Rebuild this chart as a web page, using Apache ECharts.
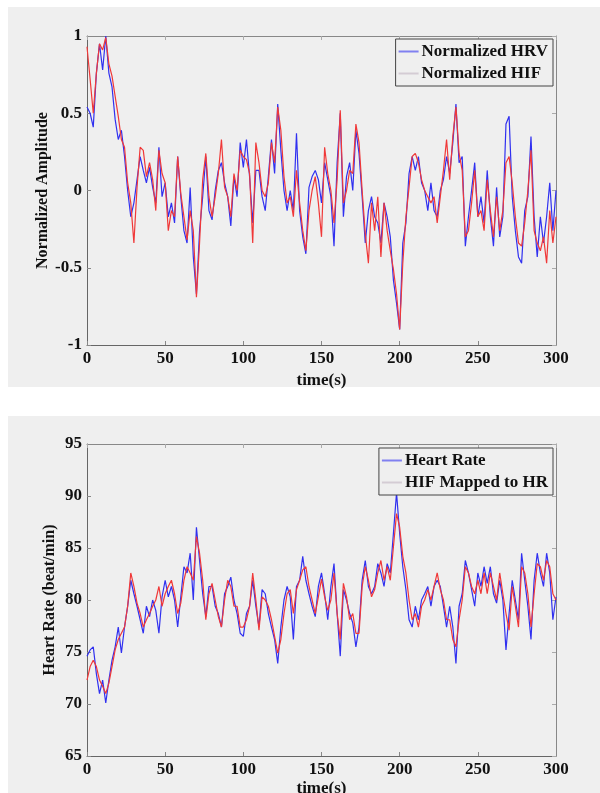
<!DOCTYPE html>
<html>
<head>
<meta charset="utf-8">
<script src="https://cdn.jsdelivr.net/npm/echarts@6/dist/echarts.min.js"></script>
<style>
  html, body { margin: 0; padding: 0; background: #fff; }
  #chart { width: 600px; height: 793px; }
</style>
</head>
<body>
<div id="chart"></div>
<script>
// samples every 2 s, 0..300 s
const timeStep = 2

// top panel: normalized HRV (blue) and normalized HIF (red)
const hrvNorm = [
  0.54, 0.50, 0.41, 0.76, 0.95, 0.78, 1.00, 0.76, 0.67, 0.46,
  0.33, 0.39, 0.22, 0.00, -0.17, -0.08, 0.07, 0.22, 0.13, 0.05,
  0.15, 0.02, -0.08, 0.28, -0.04, 0.05, -0.17, -0.08, -0.21, 0.22,
  -0.04, -0.26, -0.34, 0.02, -0.43, -0.67, -0.26, -0.04, 0.22, -0.13,
  -0.19, 0.00, 0.13, 0.18, 0.05, -0.04, -0.23, 0.09, -0.04, 0.31,
  0.15, 0.33, 0.09, -0.21, 0.13, 0.13, -0.04, -0.13, 0.09, 0.33,
  0.11, 0.56, 0.26, 0.00, -0.13, 0.00, -0.13, 0.37, -0.13, -0.30,
  -0.41, 0.02, 0.09, 0.13, 0.07, -0.08, 0.18, 0.07, -0.04, -0.36,
  0.18, 0.50, -0.17, 0.09, 0.18, 0.00, 0.39, 0.24, -0.04, -0.34,
  -0.13, -0.04, -0.17, -0.21, -0.34, -0.08, -0.17, -0.30, -0.58, -0.73,
  -0.90, -0.34, -0.21, 0.11, 0.22, 0.13, 0.22, 0.05, 0.00, -0.13,
  0.05, -0.13, -0.17, 0.00, 0.07, 0.22, 0.11, 0.31, 0.56, 0.18,
  0.22, -0.36, -0.17, 0.00, 0.18, -0.17, -0.04, -0.21, 0.13, -0.17,
  -0.36, 0.02, -0.30, -0.17, 0.43, 0.48, -0.04, -0.26, -0.43, -0.47,
  -0.13, -0.04, 0.35, -0.17, -0.43, -0.17, -0.34, -0.17, 0.05, -0.26,
  0.00
]
const hifNorm = [
  0.93, 0.72, 0.50, 0.76, 0.95, 0.91, 0.99, 0.82, 0.74, 0.61,
  0.48, 0.33, 0.28, 0.05, -0.08, -0.34, 0.02, 0.28, 0.26, 0.09,
  0.18, 0.07, -0.13, 0.26, 0.11, 0.05, -0.26, -0.13, -0.17, 0.22,
  -0.02, -0.17, -0.32, -0.13, -0.26, -0.69, -0.34, 0.07, 0.24, -0.04,
  -0.17, -0.04, 0.11, 0.33, 0.02, -0.04, -0.17, 0.11, 0.00, 0.26,
  0.22, 0.20, 0.11, -0.34, 0.31, 0.18, 0.00, -0.04, 0.05, 0.31,
  0.18, 0.54, 0.39, 0.09, -0.08, -0.04, -0.17, 0.13, -0.08, -0.26,
  -0.39, -0.13, 0.00, 0.09, -0.08, -0.30, 0.28, 0.11, 0.00, -0.21,
  0.07, 0.52, -0.08, 0.00, 0.13, 0.11, 0.43, 0.31, 0.00, -0.28,
  -0.47, -0.08, -0.26, -0.04, -0.43, -0.08, -0.26, -0.39, -0.51, -0.67,
  -0.90, -0.47, -0.17, 0.02, 0.22, 0.24, 0.18, 0.07, 0.00, -0.04,
  -0.08, -0.04, -0.21, -0.04, 0.13, 0.33, 0.07, 0.35, 0.54, 0.24,
  0.13, -0.30, -0.26, -0.08, 0.13, -0.17, -0.13, -0.26, 0.07, -0.13,
  -0.30, -0.04, -0.26, -0.13, 0.18, 0.22, 0.05, -0.17, -0.34, -0.36,
  -0.21, 0.00, 0.26, -0.26, -0.34, -0.39, -0.30, -0.47, -0.13, -0.34,
  -0.17
]

// bottom panel: heart rate (blue) and HIF mapped to HR (red), beat/min
const heartRate = [
  74.6, 75.2, 75.5, 72.9, 71.0, 72.3, 70.1, 72.3, 74.2, 75.5,
  77.4, 74.9, 77.4, 79.4, 81.9, 80.6, 79.4, 78.1, 76.8, 79.4,
  78.4, 80.0, 79.0, 76.8, 80.3, 81.9, 80.3, 81.3, 80.0, 77.4,
  80.3, 83.2, 82.6, 84.5, 80.0, 87.0, 83.8, 80.6, 78.4, 81.3,
  81.3, 79.4, 78.7, 77.4, 80.6, 81.3, 82.2, 80.0, 78.7, 76.8,
  76.5, 78.7, 79.4, 81.9, 79.4, 77.4, 81.0, 80.6, 78.7, 77.4,
  76.2, 73.9, 77.4, 80.0, 81.3, 80.3, 76.2, 81.3, 81.9, 84.2,
  81.9, 80.6, 79.4, 78.4, 81.3, 82.6, 80.6, 78.1, 81.3, 83.5,
  78.7, 74.6, 81.0, 80.0, 78.7, 77.8, 75.5, 77.4, 81.9, 83.8,
  81.3, 80.6, 81.3, 83.5, 82.6, 81.3, 83.5, 82.6, 86.4, 90.3,
  86.4, 83.2, 81.0, 78.1, 77.4, 79.4, 78.1, 80.0, 80.6, 81.3,
  79.4, 81.3, 81.9, 81.3, 79.4, 77.4, 79.4, 77.4, 73.9, 79.4,
  80.6, 83.8, 82.6, 81.0, 79.4, 82.6, 81.3, 83.2, 81.6, 83.2,
  80.6, 79.7, 81.9, 80.0, 75.2, 78.7, 81.9, 80.0, 78.1, 84.5,
  81.9, 79.4, 76.2, 81.9, 84.5, 82.6, 81.3, 84.5, 82.6, 78.1,
  80.3
]
const hifMapped = [
  72.3, 73.6, 74.2, 73.6, 72.3, 71.7, 71.0, 72.0, 73.6, 75.2,
  76.2, 76.8, 77.4, 79.4, 82.6, 81.3, 79.7, 78.7, 77.4, 78.1,
  78.7, 79.4, 80.0, 81.3, 79.4, 80.6, 81.3, 81.9, 80.6, 78.7,
  79.7, 81.9, 83.2, 82.6, 81.9, 86.1, 84.5, 81.9, 78.1, 80.6,
  81.6, 80.0, 78.4, 77.4, 80.0, 81.9, 81.3, 79.4, 79.4, 77.4,
  77.4, 78.1, 79.4, 82.6, 80.0, 77.1, 80.3, 80.0, 79.4, 78.1,
  76.5, 74.9, 76.2, 78.7, 80.6, 81.0, 78.7, 81.0, 81.9, 82.9,
  83.2, 81.3, 80.0, 78.7, 80.3, 82.0, 80.3, 79.0, 80.0, 82.6,
  78.7, 76.2, 81.6, 80.3, 78.1, 78.7, 76.8, 76.8, 81.3, 83.2,
  81.9, 80.3, 81.0, 82.6, 83.8, 81.9, 83.2, 81.9, 85.1, 88.3,
  87.0, 84.2, 82.6, 80.0, 78.1, 78.7, 77.4, 79.4, 80.0, 81.0,
  80.0, 81.3, 82.6, 81.0, 80.0, 78.1, 78.1, 76.2, 75.5, 78.1,
  80.0, 83.2, 82.6, 81.3, 80.6, 81.9, 80.6, 82.6, 80.6, 82.6,
  81.3, 80.0, 82.6, 80.6, 78.7, 77.1, 81.3, 79.4, 77.4, 83.2,
  82.6, 80.6, 77.4, 80.6, 83.5, 83.2, 81.9, 83.8, 83.2, 80.6,
  80.0
]

const xTicks = [0, 50, 100, 150, 200, 250, 300]
const topTicks = [-1, -0.5, 0, 0.5, 1]
const bottomTicks = [65, 70, 75, 80, 85, 90, 95]

const panelGray = '#efefef'
const blue = '#3030f0'
const red = '#f03838'
const font = 'Liberation Serif'
const fsize = 17

function pairs (arr) {
  return arr.map(function (v, i) { return [i * timeStep, v] })
}

function xAxes (gridIndex, nameGap) {
  return [
    {
      gridIndex: gridIndex,
      type: 'value',
      min: xTicks[0],
      max: xTicks[xTicks.length - 1],
      interval: 50,
      name: 'time(s)',
      nameLocation: 'middle',
      nameGap: nameGap,
      nameMoveOverlap: false,
      nameTextStyle: { fontFamily: font, fontWeight: 'bold', fontSize: fsize, color: '#111' },
      axisLine: { onZero: false, lineStyle: { color: '#666' } },
      axisTick: { inside: true, length: 4, lineStyle: { color: '#888' } },
      axisLabel: { fontFamily: font, fontWeight: 'bold', fontSize: fsize, color: '#111', margin: 5 },
      splitLine: { show: false }
    },
    {
      gridIndex: gridIndex,
      type: 'value',
      position: 'top',
      min: xTicks[0],
      max: xTicks[xTicks.length - 1],
      interval: 50,
      axisLine: { show: true, onZero: false, lineStyle: { color: '#888' } },
      axisTick: { inside: true, length: 4, lineStyle: { color: '#aaa' } },
      axisLabel: { show: false },
      splitLine: { show: false }
    }
  ]
}

function yAxes (gridIndex, ticks, name, nameGap) {
  return [
    {
      gridIndex: gridIndex,
      type: 'value',
      min: ticks[0],
      max: ticks[ticks.length - 1],
      interval: ticks[1] - ticks[0],
      name: name,
      nameLocation: 'middle',
      nameGap: nameGap,
      nameMoveOverlap: false,
      nameTextStyle: { fontFamily: font, fontWeight: 'bold', fontSize: fsize - 1, color: '#111' },
      axisLine: { show: true, onZero: false, lineStyle: { color: '#666' } },
      axisTick: { inside: true, length: 4, lineStyle: { color: '#888' } },
      axisLabel: { fontFamily: font, fontWeight: 'bold', fontSize: fsize, color: '#111', margin: 5 },
      splitLine: { show: false }
    },
    {
      gridIndex: gridIndex,
      type: 'value',
      position: 'right',
      min: ticks[0],
      max: ticks[ticks.length - 1],
      interval: ticks[1] - ticks[0],
      axisLine: { show: true, onZero: false, lineStyle: { color: '#888' } },
      axisTick: { inside: true, length: 4, lineStyle: { color: '#aaa' } },
      axisLabel: { show: false },
      splitLine: { show: false }
    }
  ]
}

function legend (names, right, top) {
  return {
    orient: 'vertical',
    right: right,
    top: top,
    padding: [4, 5, 4, 3],
    itemGap: 5,
    itemWidth: 20,
    itemHeight: 2,
    icon: 'rect',
    borderColor: '#444',
    borderWidth: 1,
    borderRadius: 0,
    backgroundColor: panelGray,
    textStyle: { fontFamily: font, fontWeight: 'bold', fontSize: fsize, color: '#111', padding: [0, 0, 0, -2] },
    data: [
      { name: names[0], itemStyle: { color: '#8080f0' } },
      { name: names[1], itemStyle: { color: '#d4ccd4' } }
    ]
  }
}

const chart = echarts.init(document.getElementById('chart'), null, { renderer: 'canvas' })

const option = {
  backgroundColor: '#fff',
  animation: false,
  graphic: [
    { type: 'rect', z: -10, silent: true, shape: { x: 8, y: 7, width: 592, height: 380 }, style: { fill: panelGray } },
    { type: 'rect', z: -10, silent: true, shape: { x: 8, y: 416, width: 592, height: 377 }, style: { fill: panelGray } }
  ],
  legend: [
    legend(['Normalized HRV', 'Normalized HIF'], 47, 39),
    legend(['Heart Rate', 'HIF Mapped to HR'], 47, 448)
  ],
  grid: [
    { left: 87, top: 36, width: 469, height: 309, outerBoundsMode: 'none' },
    { left: 87, top: 444, width: 469, height: 312, outerBoundsMode: 'none' }
  ],
  xAxis: xAxes(0, 27).concat(xAxes(1, 24)),
  yAxis: yAxes(0, topTicks, 'Normalized Amplitude', 36).concat(yAxes(1, bottomTicks, 'Heart Rate (beat/min)', 29)),
  series: [
    {
      name: 'Normalized HRV', type: 'line', xAxisIndex: 0, yAxisIndex: 0,
      showSymbol: false, lineStyle: { color: blue, width: 1.2 }, itemStyle: { color: blue },
      data: pairs(hrvNorm)
    },
    {
      name: 'Normalized HIF', type: 'line', xAxisIndex: 0, yAxisIndex: 0,
      showSymbol: false, lineStyle: { color: red, width: 1.2 }, itemStyle: { color: red },
      data: pairs(hifNorm)
    },
    {
      name: 'Heart Rate', type: 'line', xAxisIndex: 2, yAxisIndex: 2,
      showSymbol: false, lineStyle: { color: blue, width: 1.2 }, itemStyle: { color: blue },
      data: pairs(heartRate)
    },
    {
      name: 'HIF Mapped to HR', type: 'line', xAxisIndex: 2, yAxisIndex: 2,
      showSymbol: false, lineStyle: { color: red, width: 1.2 }, itemStyle: { color: red },
      data: pairs(hifMapped)
    }
  ]
}

chart.setOption(option)
</script>
</body>
</html>
